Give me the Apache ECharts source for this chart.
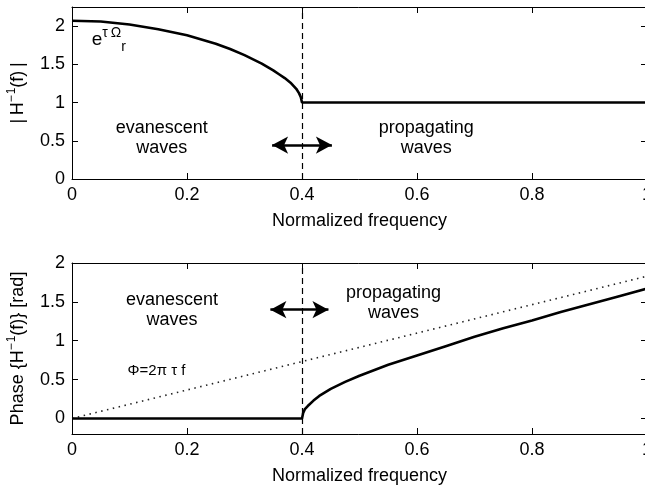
<!DOCTYPE html>
<html><head><meta charset="utf-8">
<script src="https://cdn.jsdelivr.net/npm/echarts@6/dist/echarts.min.js"></script>
<style>html,body{margin:0;padding:0;background:#fff}#c{width:645px;height:493px}</style>
</head><body><div id="c"></div>
<script>
// ---- data ----
const xTicks = [0, 0.2, 0.4, 0.6, 0.8, 1];
const magTicks = [0, 0.5, 1, 1.5, 2];
const phaseTicks = [0, 0.5, 1, 1.5, 2];

const topFreq = [0, 0.05, 0.1, 0.15, 0.2, 0.25, 0.275, 0.3, 0.33, 0.35, 0.36, 0.37, 0.38, 0.39, 0.395, 0.398, 0.4, 1.0];
const topMag  = [2.07, 2.06, 2.02, 1.96, 1.88, 1.77, 1.70, 1.62, 1.51, 1.42, 1.37, 1.32, 1.26, 1.18, 1.12, 1.07, 1.0, 1.0];

const botFreq = [0, 0.4, 0.402, 0.405, 0.41, 0.42, 0.43, 0.45, 0.475, 0.5, 0.55, 0.6, 0.65, 0.7, 0.75, 0.8, 0.85, 0.9, 0.95, 1.0];
const botPhase = [0, 0, 0.07, 0.12, 0.16, 0.23, 0.29, 0.38, 0.47, 0.55, 0.69, 0.81, 0.93, 1.05, 1.16, 1.26, 1.37, 1.47, 1.57, 1.67];

const linFreq = [0, 1];
const linPhase = [0, 1.83];

const cutoff = 0.4;

// ---- chart ----
const FONT = 'Liberation Sans, Arial, sans-serif';
const INK = '#000';
const zip = (a, b) => a.map((v, i) => [v, b[i]]);

function xAx(grid, pos, labels, name) {
  return {
    type: 'value', gridIndex: grid, position: pos, min: 0, max: 1, interval: 0.2,
    axisLine: { show: true, onZero: false, lineStyle: { color: INK, width: 1 } },
    axisTick: { show: true, inside: true, length: 6, lineStyle: { color: INK } },
    axisLabel: { show: labels, margin: 7, color: INK, fontSize: 18, fontFamily: FONT,
      hideOverlap: false, formatter: v => String(v) },
    splitLine: { show: false },
    name: name || '', nameLocation: 'middle', nameGap: 33,
    nameTextStyle: { color: INK, fontSize: 18, fontFamily: FONT }
  };
}
function yAx(grid, pos, min, max, ticks, labels, name, rich) {
  return {
    type: 'value', gridIndex: grid, position: pos, min: min, max: max,
    axisLine: { show: true, onZero: false, lineStyle: { color: INK, width: 1 } },
    axisTick: { show: true, inside: true, length: 6, customValues: ticks, lineStyle: { color: INK } },
    axisLabel: { show: labels, margin: 7, color: INK, fontSize: 18, fontFamily: FONT,
      customValues: ticks, formatter: v => String(v) },
    splitLine: { show: false },
    name: name || '', nameLocation: 'middle', nameGap: 42,
    nameTextStyle: { color: INK, fontSize: 18, fontFamily: FONT, rich: rich || {} }
  };
}
const nameRich = {
  s: { fontSize: 12, fontFamily: FONT, color: INK, verticalAlign: 'top', lineHeight: 24 },
  n: { fontSize: 18, fontFamily: FONT, color: INK, lineHeight: 24 }
};

function textAt(xi, yi, x, y, text, size, rich) {
  return {
    type: 'scatter', xAxisIndex: xi, yAxisIndex: yi, data: [[x, y]], symbolSize: 0, silent: true,
    itemStyle: { opacity: 1 },
    label: { show: true, position: 'inside', formatter: text, color: INK, fontSize: size,
      fontFamily: FONT, lineHeight: 20, align: 'center', opacity: 1, rich: rich || {} }
  };
}
function arrowAt(xi, yi, x0, x1, y) {
  return {
    type: 'line', xAxisIndex: xi, yAxisIndex: yi, data: [], silent: true,
    markLine: {
      silent: true, symbol: ['arrow', 'arrow'], symbolSize: [13, 16],
      label: { show: false },
      lineStyle: { color: '#000', width: 2.6, type: 'solid' },
      data: [[{ coord: [x0, y] }, { coord: [x1, y] }]]
    }
  };
}
const dashed = {
  silent: true, symbol: ['none', 'none'], label: { show: false },
  lineStyle: { color: '#000', width: 1.2, type: [6, 4] },
  data: [{ xAxis: cutoff }]
};

const option = {
  animation: false,
  backgroundColor: '#fff',
  grid: [
    { left: 72, top: 7, right: -2, height: 172, containLabel: false, outerBoundsMode: 'none' },
    { left: 72, top: 263, right: -2, height: 171, containLabel: false, outerBoundsMode: 'none' }
  ],
  xAxis: [
    xAx(0, 'bottom', true, 'Normalized frequency'),
    xAx(0, 'top', false),
    xAx(1, 'bottom', true, 'Normalized frequency'),
    xAx(1, 'top', false)
  ],
  yAxis: [
    yAx(0, 'left', 0, 2.25, magTicks, true, '{n||\u2009H}{s|\u2212\u200a1}{n|(f)\u2009|}', nameRich),
    yAx(0, 'right', 0, 2.25, magTicks, false),
    yAx(1, 'left', -0.2, 2, phaseTicks, true, 'Phase {H{s|\u2212\u200a1}(f)} [rad]', nameRich),
    yAx(1, 'right', -0.2, 2, phaseTicks, false)
  ],
  series: [
    {
      type: 'line', xAxisIndex: 0, yAxisIndex: 0, data: zip(topFreq, topMag),
      showSymbol: false, smooth: false, lineStyle: { color: '#000', width: 2.6 },
      markLine: dashed
    },
    {
      type: 'line', xAxisIndex: 2, yAxisIndex: 2, data: zip(linFreq, linPhase),
      showSymbol: false, lineStyle: { color: '#222', width: 1.6, type: [1.5, 4.5] }
    },
    {
      type: 'line', xAxisIndex: 2, yAxisIndex: 2, data: zip(botFreq, botPhase),
      showSymbol: false, smooth: false, lineStyle: { color: '#000', width: 2.6 },
      markLine: dashed
    },
    textAt(0, 0, 0.156, 0.54, 'evanescent\nwaves', 18),
    textAt(0, 0, 0.616, 0.54, 'propagating\nwaves', 18),
    textAt(2, 2, 0.174, 1.40, 'evanescent\nwaves', 18),
    textAt(2, 2, 0.559, 1.49, 'propagating\nwaves', 18),
    textAt(0, 0, 0.064, 1.82, '{e|e}{p|\u03c4\u2009\u03a9}{b|r}', 18, {
      e: { fontSize: 19, fontFamily: FONT, color: INK, lineHeight: 28 },
      p: { fontSize: 14, fontFamily: FONT, color: INK, verticalAlign: 'top', lineHeight: 28 },
      b: { fontSize: 14, fontFamily: FONT, color: INK, verticalAlign: 'bottom', lineHeight: 28 }
    }),
    textAt(2, 2, 0.147, 0.61, '\u03a6=2\u03c0 \u03c4 f', 15),
    arrowAt(0, 0, 0.348, 0.452, 0.444),
    arrowAt(2, 2, 0.345, 0.446, 1.40)
  ]
};

const chart = echarts.init(document.getElementById('c'), null, { renderer: 'canvas' });
chart.setOption(option);
</script>
</body></html>
